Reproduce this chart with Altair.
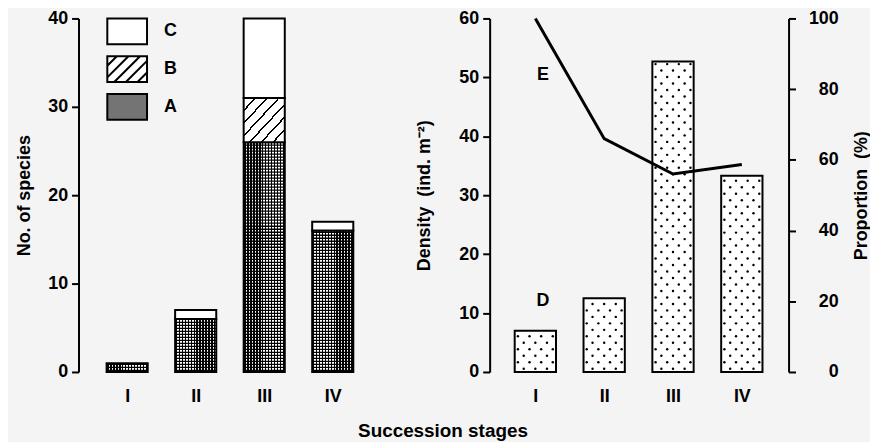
import altair as alt
import pandas as pd

# ---------------- data ----------------
stages = ["I", "II", "III", "IV"]
species_A = [1, 6, 26, 16]
species_B = [0, 0, 5, 0]
species_C = [0, 1, 9, 1]
density = [7.0, 12.5, 52.7, 33.3]
proportion = [100, 66, 56, 58.7]
legend_items = ["C", "B", "A"]
annotations = ["D", "E"]
annot_x = [1.11, 1.11]
annot_y = [12.0, 50.4]

# ---------------- style ----------------
FONT = "Liberation Sans"
BG = "#f4f4f4"
A_FILL = "#747474"
HALF = 0.3

idx = list(range(1, len(stages) + 1))
left_rows = []
for i, s in enumerate(stages):
    for seg, vals in (("A", species_A), ("B", species_B), ("C", species_C)):
        left_rows.append({"stage": s, "idx": i + 1, "segment": seg, "value": vals[i]})
left_df = pd.DataFrame(left_rows)
right_df = pd.DataFrame({"stage": stages, "idx": idx, "density": density,
                         "proportion": proportion})
annot_df = pd.DataFrame({"label": annotations, "x": annot_x, "y": annot_y})

label_expr = "[" + ",".join("'%s'" % s for s in stages) + "][datum.value - 1]"

xl_scale = alt.Scale(domain=[0.29, 4.71], nice=False, zero=False)
xr_scale = alt.Scale(domain=[0.336, 4.679], nice=False, zero=False)
ys_scale = alt.Scale(domain=[0, 40], nice=False)
yd_scale = alt.Scale(domain=[0, 60], nice=False)
yp_scale = alt.Scale(domain=[0, 100], nice=False)


def x_axis():
    return alt.Axis(values=idx, labelExpr=label_expr, title=None, domain=False,
                    ticks=False, tickSize=0, labelPadding=16, grid=False, labelAngle=0)


ys_axis = alt.Axis(values=[0, 10, 20, 30, 40], title="No. of species", orient="left",
                   tickSize=7, labelPadding=4, titlePadding=14, grid=False)
yd_axis = alt.Axis(values=[0, 10, 20, 30, 40, 50, 60], title="Density\u00a0 (ind. m\u207b\u00b2)",
                   orient="left", tickSize=7, labelPadding=4, titlePadding=26, grid=False)
yp_axis = alt.Axis(values=[0, 20, 40, 60, 80, 100], title="Proportion\u00a0 (%)", orient="right",
                   tickSize=7, labelPadding=43, labelAlign="right", titleAngle=270,
                   titleBaseline="top", titlePadding=14, grid=False)


def stripes(n, half_width, x2, y2, centers_shift=0.0):
    st = []
    for k in range(n + 1):
        c = (k + centers_shift) / n
        if c > 1:
            break
        lo, hi = max(0.0, c - half_width), min(1.0, c + half_width)
        st += [{"offset": lo, "color": "white"}, {"offset": lo, "color": "black"},
               {"offset": hi, "color": "black"}, {"offset": hi, "color": "white"}]
    return {"gradient": "linear", "x1": 0, "y1": 0, "x2": x2, "y2": y2, "stops": st}


hatch = stripes(7, 0.012, 1, 1)            # diagonal "/" hatch for B
cross_v = stripes(14, 0.017, 1, 0, 0.5)    # vertical fine lines for A

# ---------------- left panel ----------------
left_base = alt.Chart(left_df).transform_calculate(
    order="datum.segment == 'A' ? 0 : datum.segment == 'B' ? 1 : 2"
).transform_stack(
    stack="value", as_=["y0", "y1"], groupby=["idx"], sort=[alt.SortField("order")]
).transform_calculate(
    xa="datum.idx - %f" % HALF, xb="datum.idx + %f" % HALF
)


def seg_layer(seg, fill, stroke="black"):
    return left_base.transform_filter(
        "datum.segment == '%s' && datum.value > 0" % seg
    ).mark_rect(fill=fill, stroke=stroke, strokeWidth=2).encode(
        x=alt.X("xa:Q", scale=xl_scale, axis=x_axis()),
        x2="xb:Q",
        y=alt.Y("y0:Q", scale=ys_scale, axis=ys_axis),
        y2="y1:Q",
    )


# fine horizontal lines over A (together with cross_v gives a cross-hatch texture)
A_ROW = 0.34
a_rules = left_base.transform_filter(
    "datum.segment == 'A' && datum.value > 0"
).transform_calculate(
    rows="sequence(datum.y0 + %f, datum.y1 - 0.05, %f)" % (A_ROW / 2, A_ROW)
).transform_flatten(["rows"]).mark_rule(color="black", strokeWidth=1.3).encode(
    x=alt.X("xa:Q", scale=xl_scale, axis=x_axis()),
    x2="xb:Q",
    y=alt.Y("rows:Q", scale=ys_scale, axis=ys_axis),
)

rect_path = "M-1,-0.65H1V0.65H-1Z"
hatch_path = (rect_path + " M-1,-0.17L-0.52,-0.65 M-1,0.415L0.065,-0.65"
              " M-0.65,0.65L0.65,-0.65 M-0.065,0.65L1,-0.415 M0.52,0.65L1,0.17")

leg = alt.Legend(title=None, orient="none", legendX=28, legendY=-8, direction="vertical",
                 symbolSize=1600, symbolStrokeWidth=2, symbolStrokeColor="black",
                 symbolOpacity=1, labelFontSize=18, labelFontWeight="bold", labelFont=FONT,
                 labelColor="black", labelOffset=16, rowPadding=-1, padding=0)

legend_layer = left_base.transform_filter("false").mark_point(
    filled=True, strokeWidth=2, opacity=1
).encode(
    x=alt.X("xa:Q", scale=xl_scale, axis=x_axis()),
    y=alt.Y("y1:Q", scale=ys_scale, axis=ys_axis),
    fill=alt.Fill("segment:N", scale=alt.Scale(domain=legend_items,
                                               range=["white", "white", A_FILL]), legend=leg),
    stroke=alt.Stroke("segment:N", scale=alt.Scale(domain=legend_items,
                                                   range=["black", "black", "black"]), legend=leg),
    shape=alt.Shape("segment:N", scale=alt.Scale(domain=legend_items,
                                                 range=[rect_path, hatch_path, rect_path]),
                    legend=leg),
)

left = alt.layer(
    seg_layer("A", cross_v, None), a_rules, seg_layer("A", "transparent"),
    seg_layer("B", hatch), seg_layer("C", "white"), legend_layer
).properties(width=305, height=356)

# ---------------- right panel ----------------
ROW = 1.1
ROW0 = 0.55
COL = 0.169

bars_r = alt.Chart(right_df).transform_calculate(
    xa="datum.idx - %f" % HALF, xb="datum.idx + %f" % HALF, zero="0"
).mark_rect(fill="white", stroke="black", strokeWidth=2).encode(
    x=alt.X("xa:Q", scale=xr_scale, axis=x_axis()),
    x2="xb:Q",
    y=alt.Y("density:Q", scale=yd_scale, axis=yd_axis),
    y2="zero:Q",
)

dots = alt.Chart(right_df).transform_calculate(
    rows="sequence(0, floor((datum.density - 0.4 - %f) / %f) + 1)" % (ROW0, ROW)
).transform_flatten(["rows"]).transform_calculate(
    cols="datum.rows % 2 == 0 ? [-1, 0, 1] : [-1.5, -0.5, 0.5, 1.5]"
).transform_flatten(["cols"]).transform_calculate(
    dx="datum.idx + datum.cols * %f" % COL, dy="%f + datum.rows * %f" % (ROW0, ROW)
).mark_circle(size=6, color="black", opacity=1).encode(
    x=alt.X("dx:Q", scale=xr_scale, axis=x_axis()),
    y=alt.Y("dy:Q", scale=yd_scale, axis=yd_axis),
)

texts = alt.Chart(annot_df).mark_text(
    fontSize=18, fontWeight="bold", font=FONT, color="black"
).encode(
    x=alt.X("x:Q", scale=xr_scale, axis=x_axis()),
    y=alt.Y("y:Q", scale=yd_scale, axis=yd_axis),
    text="label:N",
)

line = alt.Chart(right_df).mark_line(color="black", strokeWidth=3).encode(
    x=alt.X("idx:Q", scale=xr_scale, axis=x_axis()),
    y=alt.Y("proportion:Q", scale=yp_scale, axis=yp_axis),
)

right = alt.layer(alt.layer(bars_r, dots, texts), line).resolve_scale(
    y="independent"
).properties(width=301, height=356)

chart = alt.hconcat(left, right, spacing=33).properties(
    title=alt.TitleParams("Succession stages", orient="bottom", anchor="middle",
                          fontSize=19, fontWeight="bold", font=FONT, color="black",
                          offset=16),
    padding={"left": 7, "top": 0, "right": 0, "bottom": 0},
).configure(background=BG).configure_view(stroke=None).configure_axis(
    labelFont=FONT, labelFontSize=18, labelFontWeight="bold", labelColor="black",
    titleFont=FONT, titleFontSize=18, titleFontWeight="bold", titleColor="black",
    domainColor="black", domainWidth=2, tickColor="black", tickWidth=2, grid=False,
)

chart.save("out.html", embed_options={"renderer": "svg", "actions": False})
